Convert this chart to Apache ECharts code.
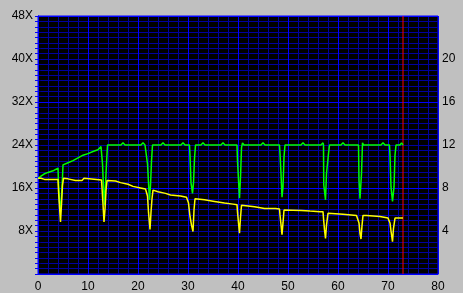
<!DOCTYPE html>
<html>
<head>
<meta charset="utf-8">
<script src="https://cdn.jsdelivr.net/npm/echarts@6/dist/echarts.min.js"></script>
<style>
html,body{margin:0;padding:0;background:#c0c0c0;}
#chart{width:463px;height:293px;}
</style>
</head>
<body>
<div id="chart"></div>
<script>
// Tick labels
var xTickLabels = [0,10,20,30,40,50,60,70,80];
var leftTickLabels = [8,16,24,32,40,48];      // shown with "X"
var rightTickLabels = [4,8,12,16,20];
var markerX = 73;
var markerLine = [[markerX,0],[markerX,48]];

// Transfer rate (green) [position, speed X]
var transferRate = [
[0,17.8],[0.6,18.2],[1.2,18.6],[2,18.9],[3,19.2],[4,19.7],
[4.1,17.0],[4.3,13.5],[4.5,11.6],[4.7,14.5],[4.9,18.0],[5.0,20.3],
[6,20.7],[7,21.1],[8,21.6],[9,22.1],[10,22.4],[11,22.8],[12,23.1],[12.6,23.7],[12.8,23.7],
[12.9,20.5],[13.1,16],[13.3,12.8],[13.5,16.5],[13.7,20.5],[13.9,24.0],
[16.6,24],[17,24.4],[17.4,24],[20.6,24],[21,24.4],[21.4,24],[21.8,24],
[21.9,20.5],[22.1,17],[22.3,13.8],[22.5,16.5],[22.7,21],[22.9,24],
[24.6,24],[25,24.4],[25.4,24],[28.6,24],[29,24.4],[29.4,24],[30.3,24],
[30.4,22],[30.6,17],[30.9,15.0],[31.1,17.0],[31.3,21.5],[31.5,24],
[32.6,24],[33,24.4],[33.4,24],[36.6,24],[37,24.4],[37.4,24],[39.8,24],
[39.9,21],[40.1,17.5],[40.3,14.1],[40.5,18],[40.7,23.5],[40.9,24.4],[41.2,24],
[44.6,24],[45,24.4],[45.4,24],[48.3,24],
[48.4,22.4],[48.6,18.7],[48.8,14.3],[49.0,16.2],[49.2,21.8],[49.4,24],
[52.6,24],[53,24.4],[53.4,24],[56.6,24],[57,24.4],[57.1,24],
[57.15,16.6],[57.3,16.6],[57.5,13.8],[57.7,18.7],[58.1,22.4],[58.3,24],
[60.6,24],[61,24.4],[61.4,24],[64.1,24],
[64.2,17.5],[64.4,14.0],[64.7,18.7],[64.9,24.4],[65.1,24],
[68.6,24],[69,24.4],[69.4,24],[70.3,24],
[70.4,22.1],[70.6,16.2],[70.9,13.5],[71.2,16.2],[71.4,22.1],[71.6,24],
[72.4,24],[72.7,24.4],[73,24]
];

// Read speed (yellow) [position, speed X]
var readSpeed = [
[0,17.8],[0.6,17.8],[0.9,18.1],[1.3,17.6],[4.0,17.6],
[4.1,15.5],[4.3,12.5],[4.5,9.7],[4.7,13.0],[4.9,16.5],[5.1,17.8],
[6,17.7],[7.5,17.4],[8.8,17.4],[9.2,17.8],[9.6,17.5],[12.7,17.5],
[12.8,16.0],[13.0,13.0],[13.2,9.7],[13.4,12.0],[13.6,15.5],[13.8,17.4],
[15.5,17.3],[16.5,17.0],[18,16.7],[19,16.3],[20.5,16.0],[21.5,15.8],[21.8,15.6],
[21.9,14.5],[22.1,11.5],[22.4,8.3],[22.6,11.5],[22.8,14.0],[23.0,15.6],
[24,15.3],[25.5,15.0],[26.5,14.7],[28.5,14.5],[29.7,14.3],[30.0,14.2],
[30.1,13.2],[30.4,10.7],[30.7,9.1],[31.0,7.9],[31.2,11.9],[31.4,14.0],
[33.3,13.8],[35.3,13.5],[37.3,13.2],[39.0,13.0],[39.8,12.9],
[39.9,11.5],[40.1,9.5],[40.3,7.6],[40.5,10.5],[40.7,12.8],
[43.3,12.5],[45.3,12.2],[47.5,12.2],[48.3,12.1],
[48.4,11.0],[48.6,9.2],[48.8,7.3],[49.0,9.5],[49.2,11.9],
[52.7,11.8],[54.4,11.7],[56.4,11.6],[57.0,11.6],
[57.1,10.4],[57.3,8.2],[57.5,6.6],[57.7,9.1],[58.0,11.3],
[61,11.1],[63.7,10.9],[64.1,10.9],
[64.2,9.5],[64.4,7.5],[64.6,6.5],[64.8,9.0],[65.0,10.9],
[65.7,10.9],[68.4,10.7],[70,10.4],[70.3,10.4],
[70.4,9.5],[70.6,8.0],[70.9,6.0],[71.1,8.5],[71.4,10.4],
[73,10.4]
];

var FONT = "'Liberation Sans', Arial, sans-serif";
var chart = echarts.init(document.getElementById('chart'), null, {renderer:'canvas'});
chart.setOption({
  backgroundColor: '#c0c0c0',
  animation: false,
  grid: {left:38, top:16, width:400, height:258, show:true, backgroundColor:'#000000', borderColor:'#0000ff', borderWidth:1},
  xAxis: [
    {type:'value', min:0, max:80, interval:2, position:'top',
     axisLine:{show:false}, axisTick:{show:false}, axisLabel:{show:false},
     splitLine:{show:true, lineStyle:{color:'#0000a0', width:1}}},
    {type:'value', min:0, max:80, interval:10, position:'bottom', z:1,
     axisLine:{show:true, lineStyle:{color:'#0000ff'}}, axisTick:{show:false},
     axisLabel:{show:true, color:'#000', fontSize:12, fontFamily:FONT, margin:7,
       formatter:function(v){return xTickLabels.indexOf(v)>=0 ? String(v) : '';}},
     splitLine:{show:true, lineStyle:{color:'#0000ff', width:1}}}
  ],
  yAxis: [
    {type:'value', min:0, max:48, interval:1, position:'left',
     axisLine:{show:true, lineStyle:{color:'#0000ff'}},
     axisTick:{show:true, length:3, lineStyle:{color:'#0000ff'}},
     axisLabel:{show:true, color:'#000', fontSize:12, fontFamily:FONT, margin:5,
       formatter:function(v){return leftTickLabels.indexOf(v)>=0 ? v+'X' : '';}},
     splitLine:{show:true, lineStyle:{color:'#0000a0', width:1}}},
    {type:'value', min:0, max:24, interval:1, position:'right',
     axisLine:{show:true, lineStyle:{color:'#0000ff'}},
     axisTick:{show:true, length:3, lineStyle:{color:'#000080'}},
     axisLabel:{show:true, color:'#000', fontSize:12, fontFamily:FONT, margin:4,
       formatter:function(v){return rightTickLabels.indexOf(v)>=0 ? String(v) : '';}},
     splitLine:{show:false}},
    {type:'value', min:0, max:48, interval:16, position:'left', z:1,
     axisLine:{show:false}, axisTick:{show:false}, axisLabel:{show:false},
     splitLine:{show:true, lineStyle:{color:'#0000ff', width:1}}}
  ],
  series: [
    {type:'line', name:'Marker', xAxisIndex:1, yAxisIndex:0, data:markerLine,
     showSymbol:false, symbol:'none', z:2, silent:true,
     lineStyle:{color:'#ff0000', width:1}},
    {type:'line', name:'Transfer', xAxisIndex:1, yAxisIndex:0, data:transferRate,
     showSymbol:false, symbol:'none', z:3,
     lineStyle:{color:'#00ff00', width:1.5}},
    {type:'line', name:'Read', xAxisIndex:1, yAxisIndex:0, data:readSpeed,
     showSymbol:false, symbol:'none', z:4,
     lineStyle:{color:'#ffff00', width:1.5}}
  ]
});
</script>
</body>
</html>
